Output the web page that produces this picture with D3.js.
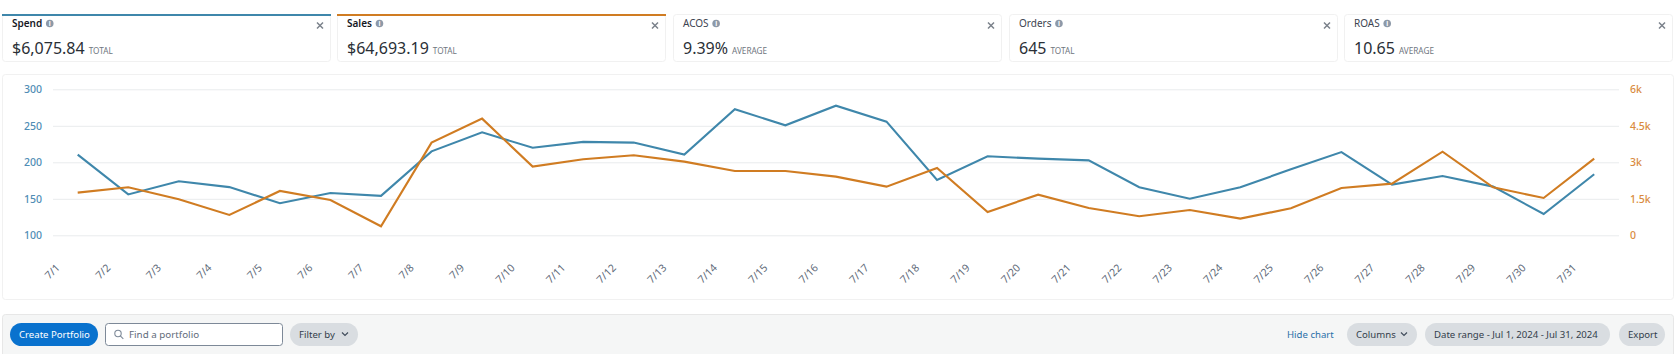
<!DOCTYPE html>
<html>
<head>
<meta charset="utf-8">
<script src="https://cdn.jsdelivr.net/npm/d3@7"></script>
<style>
  html, body { margin: 0; padding: 0; background: #fff; overflow: hidden; }
  svg { display: block; font-family: "Noto Sans", sans-serif; }
  .domain { display: none; }
</style>
</head>
<body>
<div class="chart"></div>
<script>
const days = ['7/1','7/2','7/3','7/4','7/5','7/6','7/7','7/8','7/9','7/10','7/11','7/12','7/13','7/14','7/15','7/16',
  '7/17','7/18','7/19','7/20','7/21','7/22','7/23','7/24','7/25','7/26','7/27','7/28','7/29','7/30','7/31'];
const spend = [210.5,156,174,166,144,158,154,215,241,220,228,227,210.5,272.6,250.7,277.6,
  255.7,175.8,208.2,205,202.7,165.8,150.2,165.8,190.4,214,169.4,181.3,166.7,129.2,183.6];
const sales = [1753,1973,1479,836,1822,1452,370,3808,4795,2822,3123,3288,3027,2644,2644,2411,
  2000,2767,959,1671,1123,781,1041,685,1110,1945,2123,3438,1973,1534,3151];
const spendTicks = [100,150,200,250,300];
const salesTicks = [0,1500,3000,4500,6000];
const salesTickLabels = ['0','1.5k','3k','4.5k','6k'];

const metricNames = ['Spend','Sales','ACOS','Orders','ROAS'];
const metricValues = ['$6,075.84','$64,693.19','9.39%','645','10.65'];
const metricKinds = ['TOTAL','TOTAL','AVERAGE','TOTAL','AVERAGE'];
const metricColors = ['#3f87ab','#d07c22',null,null,null];
const cardLefts = [2,337,673,1009,1344];

const width = 1675, height = 354;
const blue = '#3f87ab', orange = '#d07c22';

const svg = d3.select('.chart').append('svg')
  .attr('width', width).attr('height', height);

// metric cards
const cards = svg.append('g').selectAll('g')
  .data(metricNames)
  .join('g')
  .attr('transform', (d, i) => `translate(${cardLefts[i]},14)`);

cards.append('rect')
  .attr('x', 0.5).attr('y', 0.5).attr('width', 328).attr('height', 47).attr('rx', 3)
  .attr('fill', '#fff').attr('stroke', '#f1f1f1');

cards.filter((d, i) => metricColors[i]).append('rect')
  .attr('width', 329).attr('height', 2)
  .attr('fill', d => metricColors[metricNames.indexOf(d)]);

const labels = cards.append('text')
  .attr('x', 10).attr('y', 12.5)
  .attr('font-size', 10)
  .attr('font-weight', (d, i) => metricColors[i] ? 600 : 400)
  .attr('fill', (d, i) => metricColors[i] ? '#16191f' : '#3d4451')
  .text(d => d);

// info icon sits right after the label
cards.each(function(d, i) {
  const w = labels.nodes()[i].getComputedTextLength();
  const g = d3.select(this).append('g').attr('transform', `translate(${17.5 + w},9.5)`);
  g.append('circle').attr('r', 3.8).attr('fill', '#8d99a8');
  g.append('text').attr('text-anchor', 'middle').attr('y', 2.5).attr('font-size', 6.5)
    .attr('font-weight', 700).attr('fill', '#fff').text('i');
});

const values = cards.append('text')
  .attr('x', 10).attr('y', 40)
  .attr('font-size', 16)
  .attr('fill', '#2a2f36')
  .text((d, i) => metricValues[i]);

cards.append('text')
  .attr('x', (d, i) => 14 + values.nodes()[i].getComputedTextLength())
  .attr('y', 40)
  .attr('font-size', 8.2)
  .attr('fill', '#6f7680')
  .text((d, i) => metricKinds[i]);

cards.append('path')
  .attr('d', 'M315 8.5l6 6M321 8.5l-6 6')
  .attr('stroke', '#7b828b').attr('stroke-width', 1.5).attr('fill', 'none');

// chart panel
svg.append('rect')
  .attr('x', 2.5).attr('y', 74.5).attr('width', 1671).attr('height', 225).attr('rx', 3)
  .attr('fill', '#fff').attr('stroke', '#f1f1f1');

const x = d3.scalePoint().domain(days).range([77.7, 1594.2]);
const ySpend = d3.scaleLinear().domain([100, 300]).range([235.3, 89.3]);
const ySales = d3.scaleLinear().domain([0, 6000]).range([235.3, 89.3]);

// left axis also draws the gridlines
const leftAxis = svg.append('g')
  .attr('transform', 'translate(53,0)')
  .call(d3.axisLeft(ySpend).tickValues(spendTicks).tickSize(-1566).tickPadding(11));
leftAxis.selectAll('line').attr('stroke', '#e9ebed');
leftAxis.selectAll('text').attr('fill', '#4f8db5').attr('font-size', 10.5)
  .attr('font-family', '"Noto Sans", sans-serif').attr('font-weight', 500);

const rightAxis = svg.append('g')
  .attr('transform', 'translate(1619,0)')
  .call(d3.axisRight(ySales).tickValues(salesTicks).tickSize(0).tickPadding(11)
    .tickFormat((d, i) => salesTickLabels[i]));
rightAxis.selectAll('text').attr('fill', '#d98b3e').attr('font-size', 10.5)
  .attr('font-family', '"Noto Sans", sans-serif').attr('font-weight', 500);

const bottomAxis = svg.append('g')
  .attr('transform', 'translate(0,235)')
  .call(d3.axisBottom(x).tickSize(0));
bottomAxis.selectAll('text')
  .attr('fill', '#5f6b7a').attr('font-size', 10.5)
  .attr('font-family', '"Noto Sans", sans-serif')
  .attr('text-anchor', 'end')
  .attr('transform', 'translate(-20,31) rotate(-45)')
  .attr('y', 0).attr('dy', '0.32em');

const spendLine = d3.line().x((d, i) => x(days[i])).y(d => ySpend(d));
const salesLine = d3.line().x((d, i) => x(days[i])).y(d => ySales(d));

svg.append('path').datum(spend)
  .attr('fill', 'none').attr('stroke', blue).attr('stroke-width', 2.1)
  .attr('d', spendLine);
svg.append('path').datum(sales)
  .attr('fill', 'none').attr('stroke', orange).attr('stroke-width', 2.1)
  .attr('d', salesLine);

// toolbar
svg.append('rect')
  .attr('x', 2.5).attr('y', 314.5).attr('width', 1671).attr('height', 44).attr('rx', 3)
  .attr('fill', '#f5f6f6').attr('stroke', '#e7e7e7');

function pill(left, right, label, fill, color, chevron) {
  svg.append('rect')
    .attr('x', left).attr('y', 323).attr('width', right - left).attr('height', 23).attr('rx', 11.5)
    .attr('fill', fill);
  svg.append('text')
    .attr('x', left + 9).attr('y', 337.5)
    .attr('font-size', 9.6).attr('fill', color).text(label);
  if (chevron) {
    svg.append('path')
      .attr('d', `M${right - 16} 332.5l3 3 3-3`)
      .attr('stroke', '#414d5c').attr('stroke-width', 1.2).attr('fill', 'none');
  }
}

pill(10, 98, 'Create Portfolio', '#0972ce', '#ffffff', false);
pill(290, 358, 'Filter by', '#d9dde1', '#333d4b', true);
pill(1347, 1417, 'Columns', '#d9dde1', '#333d4b', true);
pill(1425, 1610, 'Date range - Jul 1, 2024 - Jul 31, 2024', '#d9dde1', '#333d4b', false);
pill(1619, 1665, 'Export', '#d9dde1', '#333d4b', false);

svg.append('rect')
  .attr('x', 105.5).attr('y', 323.5).attr('width', 177).attr('height', 22).attr('rx', 3)
  .attr('fill', '#fff').attr('stroke', '#7d8998');
svg.append('circle')
  .attr('cx', 118).attr('cy', 333.5).attr('r', 3.2)
  .attr('fill', 'none').attr('stroke', '#7d8998').attr('stroke-width', 1.1);
svg.append('path')
  .attr('d', 'M120.3 335.8l3 3')
  .attr('stroke', '#7d8998').attr('stroke-width', 1.1);
svg.append('text')
  .attr('x', 129).attr('y', 338)
  .attr('font-size', 9.8).attr('fill', '#5f6b7a').text('Find a portfolio');
svg.append('text')
  .attr('x', 1287).attr('y', 338)
  .attr('font-size', 9.6).attr('fill', '#2a6fa8').text('Hide chart');
</script>
</body>
</html>
